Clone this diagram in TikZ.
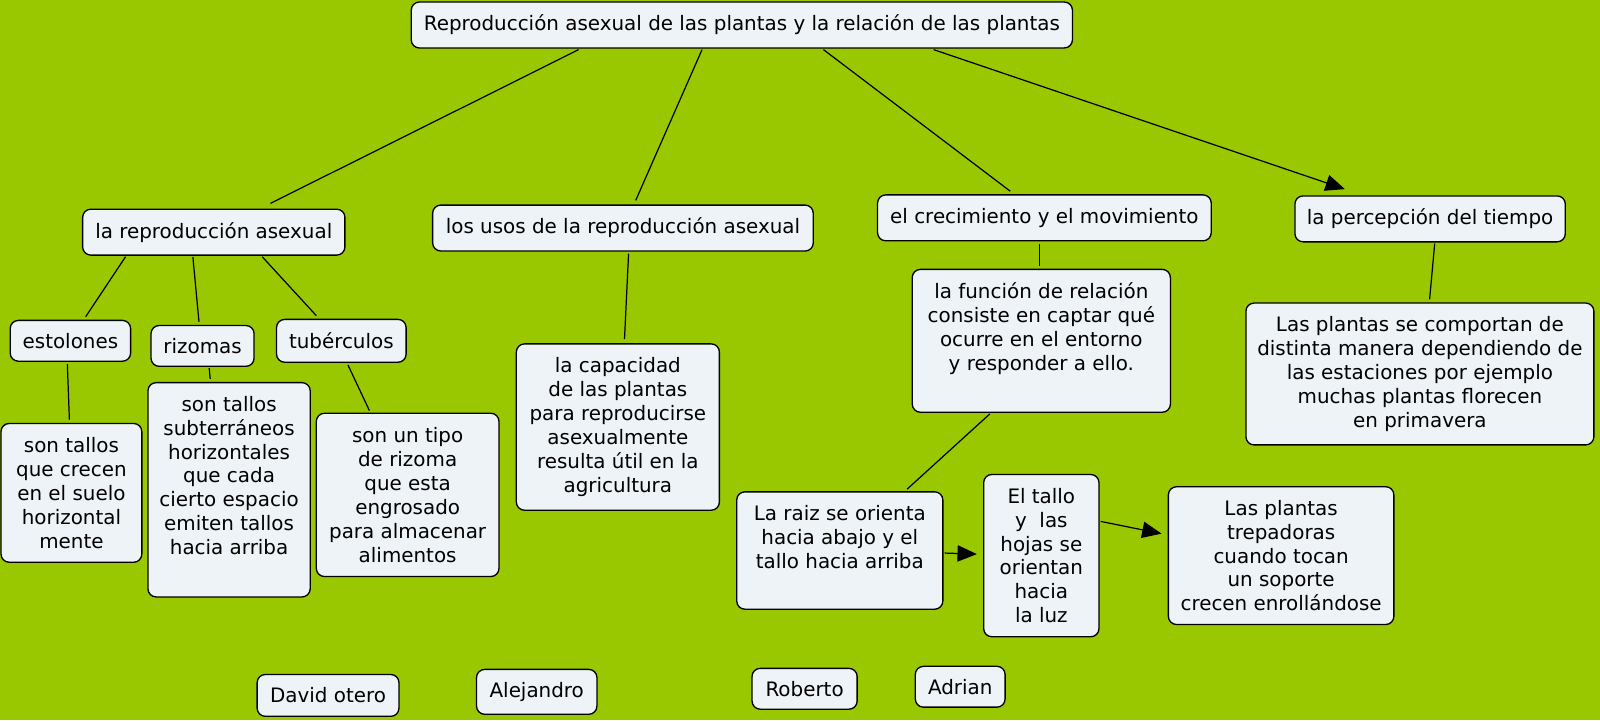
\documentclass[tikz,border=0pt]{standalone}
\usepackage{fontspec}
\setmainfont{DejaVu Sans}
\usetikzlibrary{calc,arrows.meta}
\definecolor{bggreen}{RGB}{153,200,0}
\definecolor{boxfill}{RGB}{237,243,246}
\tikzset{
  cbox/.style={draw=black, line width=1.3pt, fill=boxfill, rounded corners=8pt,
    inner sep=0pt, align=center, font=\fontsize{19.5}{23.4}\selectfont},
  ctext/.style={inner sep=0pt, align=center, font=\fontsize{19.5}{23.4}\selectfont},
  link/.style={draw=black, line width=1.2pt},
  alink/.style={link, -{Triangle[length=19pt,width=16pt]}},
}
\begin{document}
\begin{tikzpicture}[x=1pt,y=-1pt]
\fill[bggreen] (0,0) rectangle (1568,706);
\useasboundingbox (0,0) rectangle (1568,706);

\node[cbox, minimum width=648pt, minimum height=45pt] (title) at (727,24.5) {Reproducción asexual de las plantas y la relación de las plantas};
\node[cbox, minimum width=257pt, minimum height=45pt] (A) at (209.5,227.5) {la reproducción asexual};
\node[cbox, minimum width=373pt, minimum height=45pt] (B) at (610.5,223.5) {los usos de la reproducción asexual};
\node[cbox, minimum width=327pt, minimum height=45pt] (C) at (1023.5,213.5) {el crecimiento y el movimiento};
\node[cbox, minimum width=265pt, minimum height=45pt] (D) at (1401.5,214.5) {la percepción del tiempo};

\node[cbox, minimum width=118pt, minimum height=40pt] (est) at (69,334) {estolones};
\node[cbox, minimum width=101pt, minimum height=40pt] (riz) at (198.5,339) {rizomas};
\node[cbox, minimum width=127pt, minimum height=42pt] (tub) at (334.5,334) {tubérculos};

\node[cbox, minimum width=138pt, minimum height=136pt] (e1) at (70,483) {son tallos\\que crecen\\en el suelo\\horizontal\\mente};
\node[cbox, minimum width=159pt, minimum height=210pt] (r1) at (224.5,480) {};
\node[ctext] (r1t) at (224.5,466) {son tallos\\subterráneos\\horizontales\\que cada\\cierto espacio\\emiten tallos\\hacia arriba};
\node[cbox, minimum width=179pt, minimum height=160pt] (t1) at (399.5,485) {son un tipo\\de rizoma\\que esta\\engrosado\\para almacenar\\alimentos};
\node[cbox, minimum width=199pt, minimum height=163pt] (b1) at (605.5,418.5) {la capacidad\\de las plantas\\para reproducirse\\asexualmente\\resulta útil en la\\agricultura};

\node[cbox, minimum width=253pt, minimum height=140pt] (c1) at (1020.5,334) {};
\node[ctext] (c1t) at (1020.5,322) {la función de relación\\consiste en captar qué\\ocurre en el entorno\\y responder a ello.};
\node[cbox, minimum width=202pt, minimum height=115pt] (l1) at (823,539.5) {};
\node[ctext] (l1t) at (823,526) {La raiz se orienta\\hacia abajo y el\\tallo hacia arriba};
\node[cbox, minimum width=113pt, minimum height=159pt] (l2) at (1020.5,544.5) {El tallo\\y~~las\\hojas se\\orientan\\hacia\\la luz};
\node[cbox, minimum width=221pt, minimum height=135pt] (l3) at (1255.5,544.5) {Las plantas\\trepadoras\\cuando tocan\\un soporte\\crecen enrollándose};
\node[cbox, minimum width=341pt, minimum height=139pt] (d1) at (1391.5,366.5) {Las plantas se comportan de\\distinta manera dependiendo de\\las estaciones por ejemplo\\muchas plantas florecen\\en primavera};

\node[cbox, minimum width=139pt, minimum height=41pt] (n1) at (321.5,681.5) {David otero};
\node[cbox, minimum width=118pt, minimum height=44pt] (n2) at (526,678) {Alejandro};
\node[cbox, minimum width=103pt, minimum height=40pt] (n3) at (788.5,675) {Roberto};
\node[cbox, minimum width=88pt, minimum height=40pt] (n4) at (941,673) {Adrian};

\draw[link] ($(title.south)+(-160,1)$) -- ($(A.north)+(55.5,-5)$);
\draw[link] ($(title.south)+(-39,1)$) -- ($(B.north)+(12.5,-4)$);
\draw[link] ($(title.south)+(80,1)$) -- ($(C.north)+(-33.5,-3)$);
\draw[alink] ($(title.south)+(188,1)$) -- ($(D.north)+(-83.5,-6)$);
\draw[link] ($(A.south)+(-86.5,1)$) -- ($(est.north)+(15,-3)$);
\draw[link] ($(A.south)+(-20.5,1)$) -- ($(riz.north)+(-3.5,-3)$);
\draw[link] ($(A.south)+(47.5,1)$) -- ($(tub.north)+(-24.5,-3)$);
\draw[link] ($(est.south)+(-3,2)$) -- ($(e1.north)+(-2,-3)$);
\draw[link] ($(riz.south)+(6.5,1)$) -- ($(r1.north)+(-18.5,-3)$);
\draw[link] ($(tub.south)+(6.5,2)$) -- ($(t1.north)+(-37.5,-2)$);
\draw[link] ($(B.south)+(5.5,2)$) -- ($(b1.north)+(6.5,-4)$);
\draw[link] ($(C.south)+(-4.5,2)$) -- ($(c1.north)+(-1.5,-3)$);
\draw[link] ($(D.south)+(4.5,1)$) -- ($(d1.north)+(9.5,-3)$);
\draw[link] ($(c1.south)+(-50.5,1)$) -- ($(l1.north)+(66,-2)$);
\draw[alink] ($(l1.east)+(1,2.5)$) -- ($(l2.west)+(-6,-1.5)$);
\draw[alink] ($(l2.east)+(1,-33.5)$) -- ($(l3.west)+(-6,-21.5)$);
\end{tikzpicture}
\end{document}
